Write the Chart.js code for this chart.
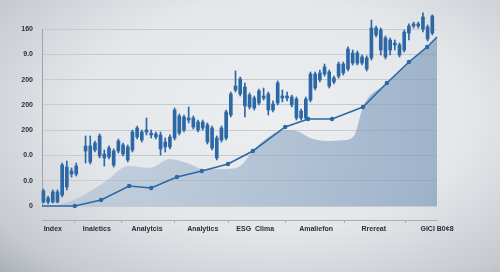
<!DOCTYPE html>
<html>
<head>
<meta charset="utf-8">
<script src="https://cdn.jsdelivr.net/npm/chart.js@4.4.1/dist/chart.umd.min.js"></script>
<style>
  html, body { margin: 0; padding: 0; }
  body {
    width: 500px; height: 272px; overflow: hidden;
    background: radial-gradient(ellipse 78% 85% at 55% 42%, #eceef0 0%, #e4e7ea 50%, #c6cacf 85%, #a7adb3 100%);
  }
  #wrap { position: relative; width: 500px; height: 272px; }
</style>
</head>
<body>
<div id="wrap"><canvas id="chart" width="500" height="272"></canvas></div>
<script>
// y axis labels (bottom to top), as printed on the chart
const yTickLabels = ['0', '0.0', '0.0', '200', '200', '200', '9.0', '160'];

// x axis labels and where they sit along the candle index
const xLabels = ['Index', 'Inaletics', 'Analytcis', 'Analytics', 'ESG  Clima', 'Amaliefon', 'Rrereat', 'GICI B0¢8'];
const xLabelPos = [2.0, 11.4, 22.1, 34.0, 45.2, 58.2, 70.5, 84];

// candles (one per index, null = gap)
const candleOpen = [3.2,3.2,3.2,3.2,8.7,15.0,25.3,25.3,null,43.5,
  34.8,44.3,39.6,38.0,38.8,32.4,43.5,41.1,36.4,44.3,
  54.6,52.2,58.5,56.2,54.6,45.1,46.7,46.7,53.8,57.7,
  60.1,68.0,62.5,60.1,61.7,50.6,45.9,38.0,52.2,53.8,
  72.0,91.8,88.6,79.1,78.3,77.5,81.5,85.4,75.9,75.9,
  81.5,85.4,85.4,79.9,69.6,69.6,69.6,83.8,93.3,99.7,
  104.4,94.9,98.1,102.8,105.2,108.4,113.1,113.1,113.1,108.4,
  117.1,135.3,123.4,117.9,123.4,127.4,119.4,123.4,136.8,142.4,
  142.4,140.0,132.1,136.8];
const candleClose = [11.9,6.3,11.1,11.1,32.4,30.8,27.7,31.6,null,47.5,
  47.5,49.8,55.4,41.1,45.9,43.5,51.4,48.3,46.7,58.5,
  61.7,58.5,60.1,57.7,57.0,56.2,50.6,54.6,75.9,71.2,
  70.4,69.6,69.6,66.4,66.4,64.1,61.7,53.8,61.7,74.4,
  88.6,94.9,100.5,94.1,87.8,85.4,91.0,87.0,88.6,80.7,
  97.3,87.0,87.0,86.2,84.6,75.1,84.6,104.4,104.4,105.2,
  110.0,106.0,101.2,112.3,112.3,124.2,121.0,121.0,117.9,117.1,
  140.8,140.8,139.2,132.9,131.3,128.9,127.4,137.6,142.4,144.0,
  144.0,149.5,141.6,150.3];
const candleHigh = [13.4,7.9,12.7,12.7,34.0,35.6,30.1,34.0,null,55.4,
  55.4,51.4,57.0,44.3,47.5,45.1,53.0,49.8,48.3,60.1,
  63.3,60.1,69.6,60.1,58.5,58.5,53.8,56.2,77.5,72.8,
  72.0,78.3,71.2,68.0,68.0,65.7,63.3,55.4,63.3,75.9,
  90.2,106.8,102.0,97.3,89.4,87.0,92.5,93.3,90.2,83.1,
  98.9,91.8,90.2,87.8,86.2,76.7,86.2,106.0,106.0,107.6,
  112.3,107.6,102.8,113.9,113.9,125.8,123.4,122.6,119.4,118.7,
  147.1,142.4,140.8,134.5,132.9,131.3,128.9,139.2,144.0,145.5,
  145.5,152.7,143.2,151.1];
const candleLow = [2.4,1.6,2.4,2.4,7.1,12.7,22.9,23.7,null,34.0,
  33.2,42.7,38.0,31.6,37.2,30.8,41.9,39.6,34.8,42.7,
  53.0,50.6,56.2,53.8,53.0,40.3,42.7,45.1,52.2,56.2,
  58.5,65.7,60.9,58.5,60.1,49.0,44.3,36.4,50.6,52.2,
  70.4,90.2,87.0,70.4,76.7,75.9,79.9,83.8,72.0,74.4,
  79.9,82.3,83.1,78.3,68.0,68.0,68.0,82.3,91.8,98.1,
  102.8,93.3,96.5,101.2,103.6,106.8,111.5,111.5,111.5,106.8,
  115.5,133.7,119.4,116.3,119.4,123.4,117.9,121.8,131.3,140.8,
  140.8,137.6,130.5,135.3];

// trend line with markers
const trendX = [-0.3, 6.7, 12.3, 18.3, 23.0, 28.5, 33.8, 39.4, 44.7, 51.6, 56.5, 61.6, 68.2, 73.3, 78.0, 81.9, 84];
const trendY = [0, 0, 4.7, 15.8, 14.2, 22.9, 27.7, 33.2, 43.5, 62.5, 68.8, 68.8, 78.3, 97.3, 113.9, 125.8, 133.7];

// shaded area behind
const areaX = [-0.3, 3.1, 7.4, 13.1, 18.1, 22.7, 27.0, 30.6, 34.1, 39.2, 42.0, 44.7, 47.7, 51.6, 54.1, 56.9, 60.5, 64.4, 66.5, 68.2, 73.3, 78.0, 81.9, 84];
const areaY = [0, 0.8, 6.3, 19.0, 31.6, 30.1, 37.2, 34.0, 29.3, 29.3, 31.6, 43.5, 53.8, 60.1, 59.3, 53.8, 51.4, 52.2, 57.0, 78.3, 97.3, 113.9, 125.8, 133.7];

const X_MIN = -0.3, X_MAX = 84;
const BLUE = '#2c68a5';

const bodies = [], wicks = [];
candleOpen.forEach((o, i) => {
  if (o == null) return;
  bodies.push({ x: i, y: [o, candleClose[i]] });
  wicks.push({ x: i, y: [candleLow[i], candleHigh[i]] });
});

const ctx = document.getElementById('chart').getContext('2d');
new Chart(ctx, {
  type: 'bar',
  data: {
    datasets: [
      {
        type: 'line',
        data: areaX.map((x, i) => ({ x, y: areaY[i] })),
        fill: 'origin',
        borderWidth: 0,
        pointRadius: 0,
        cubicInterpolationMode: 'monotone',
        backgroundColor: c => {
          const a = c.chart.chartArea;
          if (!a) return 'rgba(140,168,196,0.5)';
          const g = c.chart.ctx.createLinearGradient(a.left, 0, a.right, 0);
          g.addColorStop(0, 'rgba(160,184,208,0.45)');
          g.addColorStop(1, 'rgba(120,150,185,0.65)');
          return g;
        },
        order: 4
      },
      {
        data: wicks,
        backgroundColor: BLUE,
        barThickness: 1,
        grouped: false,
        clip: false,
        order: 3
      },
      {
        data: bodies,
        backgroundColor: BLUE,
        barThickness: 3,
        grouped: false,
        clip: false,
        order: 2
      },
      {
        type: 'line',
        data: trendX.map((x, i) => ({ x, y: trendY[i] })),
        borderColor: BLUE,
        borderWidth: 1.6,
        backgroundColor: BLUE,
        pointRadius: trendX.map((x, i) => (i === 0 || i === trendX.length - 1) ? 0 : 2.2),
        pointBorderWidth: 0,
        tension: 0,
        fill: false,
        clip: false,
        order: 1
      }
    ]
  },
  options: {
    responsive: false,
    animation: false,
    layout: { padding: { top: 29, right: 63, bottom: 30, left: 0 } },
    plugins: { legend: { display: false }, tooltip: { enabled: false } },
    scales: {
      x: {
        type: 'linear', min: X_MIN, max: X_MAX, offset: false,
        ticks: { display: false },
        grid: { drawOnChartArea: false, drawTicks: false },
        border: { display: false },
        afterFit: s => { s.height = 14; }
      },
      x2: {
        type: 'linear', position: 'bottom', min: X_MIN, max: X_MAX, offset: false,
        afterBuildTicks: s => { s.ticks = xLabelPos.map(v => ({ value: v })); },
        ticks: {
          autoSkip: false, maxRotation: 0, padding: 2,
          color: '#2b2e33',
          font: { family: 'Liberation Sans', size: 7, weight: 'bold' },
          callback: (v, i) => xLabels[i]
        },
        grid: { drawOnChartArea: false, tickLength: 3, color: '#a9aeb4' },
        border: { display: true, color: '#a9aeb4' },
        afterFit: s => { s.height = 22; }
      },
      y: {
        min: 0, max: 140,
        afterBuildTicks: s => { s.ticks = yTickLabels.map((t, i) => ({ value: i * 20 })); },
        ticks: {
          padding: 9,
          color: '#2b2e33',
          font: { family: 'Liberation Sans', size: 7, weight: 'bold' },
          callback: (v, i) => yTickLabels[i]
        },
        grid: { color: '#c6cbd0', drawTicks: false },
        border: { display: true, color: '#9ea4aa' },
        afterFit: s => { s.width = 42; }
      }
    }
  }
});
</script>
</body>
</html>
